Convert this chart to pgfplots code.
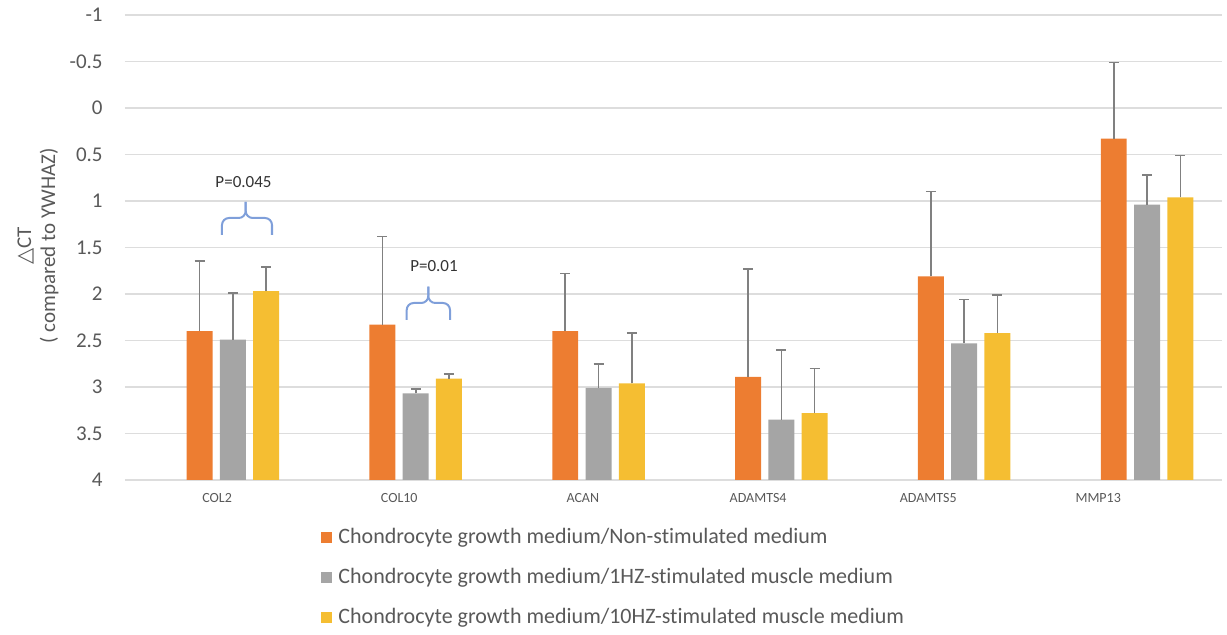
\documentclass[border=0pt]{standalone}
\usepackage{pgfplots}
\usepackage{pgfplotstable}
\pgfplotsset{compat=1.18}
\usepackage{fontspec}
\setmainfont{Carlito}[Ligatures=NoCommon]
\newfontfamily\dejavu{DejaVu Sans}
\definecolor{orangeC}{HTML}{ED7D31}
\definecolor{grayC}{HTML}{A5A5A5}
\definecolor{goldC}{HTML}{F5BE32}
\definecolor{gridC}{HTML}{DDDDDD}
\definecolor{tickC}{HTML}{595959}
\definecolor{errC}{HTML}{808080}
\definecolor{braceC}{HTML}{7F9FDA}
\pgfplotstableread{
x v1 e1 v2 e2 v3 e3
0 2.40 0.755 2.49 0.50 1.97 0.26
1 2.33 0.95 3.07 0.05 2.91 0.05
2 2.40 0.62 3.01 0.26 2.96 0.54
3 2.89 1.16 3.35 0.75 3.28 0.48
4 1.81 0.91 2.53 0.47 2.42 0.41
5 0.33 0.82 1.04 0.32 0.96 0.45
}\data
\begin{document}
\begin{tikzpicture}
\path[use as bounding box] (-62.5pt,-77.5pt) rectangle (551pt,240pt);
\begin{axis}[
  at={(0,0)}, anchor=south west,
  width=548.5pt, height=232.5pt, scale only axis,
  xmin=-0.59, xmax=5.41, ymin=0, ymax=5,
  ybar, bar width=0.142,
  axis line style={draw=none},
  major tick length=0pt,
  ymajorgrids, grid style={color=gridC, line width=0.8pt},
  ytick={0,0.5,...,5},
  yticklabels={4,3.5,3,2.5,2,1.5,1,0.5,0,-0.5,-1},
  yticklabel style={font=\fontsize{10.5}{12}\selectfont, text=tickC, anchor=east, inner sep=0pt, xshift=-11pt},
  xtick={-0.086,0.91,1.914,2.873,3.803,4.733},
  xticklabels={COL2,COL10,ACAN,ADAMTS4,ADAMTS5,MMP13},
  xticklabel style={font=\fontsize{7}{8}\selectfont, text=tickC, anchor=center, inner sep=0pt, yshift=-9pt},
  error bars/y dir=plus, error bars/y explicit,
  error bars/error bar style={color=errC, line width=0.8pt},
  error bars/error mark options={color=errC, line width=0.8pt, mark size=2.5pt, rotate=90},
  clip=false,
]
\addplot[fill=orangeC, draw=none, bar shift=-0.182] table[x=x, y expr=4-\thisrow{v1}, y error=e1] {\data};
\addplot[fill=grayC, draw=none, bar shift=0] table[x=x, y expr=4-\thisrow{v2}, y error=e2] {\data};
\addplot[fill=goldC, draw=none, bar shift=0.182] table[x=x, y expr=4-\thisrow{v3}, y error=e3] {\data};
\end{axis}
\begin{scope}[shift={(-62.5pt,240pt)}, x=0.5pt, y=-0.5pt]
  % y label
  \node[rotate=90, align=center, text=tickC, font=\fontsize{10.5}{12}\selectfont] at (38,246) {{\dejavu △}CT\\( compared to YWHAZ)};
  % P values and braces
  \node[text=black!80, font=\fontsize{8.5}{10}\selectfont] at (243.5,182) {P=0.045};
  \node[text=black!80, font=\fontsize{8.5}{10}\selectfont] at (434,266) {P=0.01};
  \draw[braceC, line width=1pt, rounded corners=3.5pt] (222,235) -- (222,218) -- (245.7,218) -- (245.7,202);
  \draw[braceC, line width=1pt, rounded corners=3.5pt] (245.7,202) -- (245.7,218) -- (272,218) -- (272,235);
  \draw[braceC, line width=1pt, rounded corners=3.5pt] (406.7,320) -- (406.7,303) -- (428.3,303) -- (428.3,286.7);
  \draw[braceC, line width=1pt, rounded corners=3.5pt] (428.3,286.7) -- (428.3,303) -- (450,303) -- (450,320);
  % legend
  \fill[orangeC] (320.7,531.7) rectangle (332.3,543.3);
  \fill[grayC] (320.7,571.7) rectangle (332.3,583.3);
  \fill[goldC] (320.7,611.7) rectangle (332.3,623.3);
  \node[anchor=west, inner sep=0pt, text=tickC, font=\fontsize{11}{13}\selectfont] at (338,537.5) {Chondrocyte growth medium/Non-stimulated medium};
  \node[anchor=west, inner sep=0pt, text=tickC, font=\fontsize{11}{13}\selectfont] at (338,577.5) {Chondrocyte growth medium/1HZ-stimulated muscle medium};
  \node[anchor=west, inner sep=0pt, text=tickC, font=\fontsize{11}{13}\selectfont] at (338,617.5) {Chondrocyte growth medium/10HZ-stimulated muscle medium};
\end{scope}
\end{tikzpicture}
\end{document}
